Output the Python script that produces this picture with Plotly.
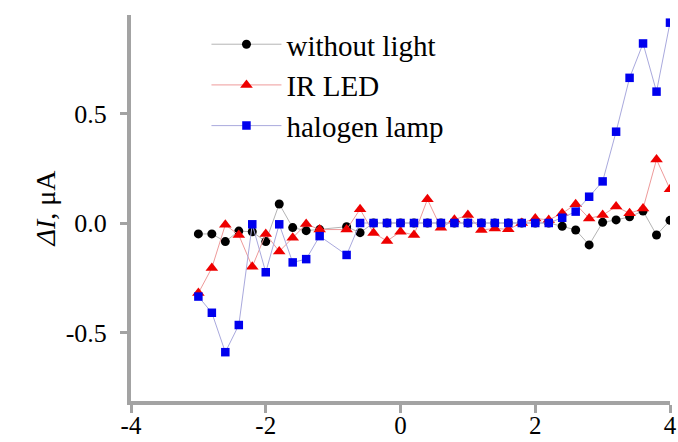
import plotly.graph_objects as go

x_vals = [-3.0, -2.8, -2.6, -2.4, -2.2, -2.0, -1.8, -1.6, -1.4, -1.2, -0.8, -0.6, -0.4, -0.2, 0.0,
          0.2, 0.4, 0.6, 0.8, 1.0, 1.2, 1.4, 1.6, 1.8, 2.0, 2.2, 2.4, 2.6, 2.8, 3.0, 3.2, 3.4, 3.6, 3.8, 4.0]

without_light = [-0.05, -0.05, -0.085, -0.037, -0.04, -0.085, 0.087, -0.021, -0.035, -0.03, -0.017, -0.044, 0.0, 0.0, 0.0,
                 0.0, 0.0, 0.0, 0.0, 0.0, 0.0, 0.0, 0.0, 0.0, 0.0, 0.0, -0.015, -0.032, -0.10, 0.003, 0.014, 0.028, 0.055, -0.055, 0.012]

ir_led = [-0.32, -0.205, -0.008, -0.055, -0.20, -0.05, -0.13, -0.067, -0.005, -0.03, -0.03, 0.063, -0.046, -0.082, -0.04,
          -0.055, 0.108, -0.022, 0.015, 0.037, -0.032, -0.025, -0.029, 0.0, 0.021, 0.014, 0.044, 0.086, 0.021, 0.036, 0.075, 0.044, 0.066, 0.29, 0.154]

halogen = [-0.336, -0.41, -0.59, -0.466, -0.006, -0.225, -0.006, -0.18, -0.165, -0.06, -0.146, 0.0, 0.0, 0.0, 0.0,
           0.0, 0.0, 0.0, 0.0, 0.0, 0.0, 0.0, 0.0, 0.0, 0.0, 0.0, 0.024, 0.052, 0.12, 0.19, 0.417, 0.663, 0.82, 0.60, 0.915]

names = ["without light", "IR LED", "halogen lamp"]
x_ticks = [-4, -2, 0, 2, 4]
x_tick_text = ["-4", "-2", "0", "2", "4"]
y_ticks = [-0.5, 0.0, 0.5]
y_tick_text = ["-0.5", "0.0", "0.5"]

FONT = "Liberation Serif, Times New Roman, serif"
AX = "#a3a3a3"

fig = go.Figure()
fig.add_trace(go.Scatter(x=x_vals, y=without_light, name=names[0], mode="lines+markers",
                         line=dict(color="#b4b4b4", width=1),
                         marker=dict(symbol="circle", size=9, color="#000000"),
                         legendgroup="a"))
fig.add_trace(go.Scatter(x=x_vals, y=ir_led, name=names[1], mode="lines+markers",
                         line=dict(color="#ee9a9a", width=1),
                         marker=dict(symbol="triangle-up", size=11, color="#ee0000"),
                         legendgroup="b"))
fig.add_trace(go.Scatter(x=x_vals, y=halogen, name=names[2], mode="lines+markers",
                         line=dict(color="#a9a9dd", width=1),
                         marker=dict(symbol="square", size=8.5, color="#0000ee"),
                         legendgroup="c"))

fig.update_layout(
    width=678, height=442,
    margin=dict(l=131, r=8, t=15, b=41),
    paper_bgcolor="white", plot_bgcolor="white",
    font=dict(family=FONT, color="black"),
    showlegend=True,
    legend=dict(x=0.14, y=0.99, xanchor="left", yanchor="top",
                font=dict(family=FONT, size=29, color="black"),
                bgcolor="rgba(0,0,0,0)", itemwidth=70, tracegroupgap=0,
                traceorder="normal"),
    xaxis=dict(range=[-4, 4], tickvals=x_ticks, ticktext=x_tick_text, ticks="outside", ticklen=8, tickwidth=3,
               tickcolor=AX, showline=True, linecolor=AX, linewidth=4, showgrid=False,
               zeroline=False, automargin=False, ticklabelstandoff=-9,
               tickfont=dict(family=FONT, size=25, color="black")),
    yaxis=dict(range=[-0.813, 0.95], tickvals=y_ticks, ticktext=y_tick_text, ticks="outside",
               ticklen=7, tickwidth=3, tickcolor=AX, showline=True, linecolor=AX, linewidth=4,
               showgrid=False, zeroline=False, ticklabelstandoff=8, automargin=False,
               tickfont=dict(family=FONT, size=26, color="black"),
               title=dict(text="<i>ΔI</i>, μA", font=dict(family=FONT, size=28, color="black"),
                          standoff=3)),
)

fig.write_html("out.html")
